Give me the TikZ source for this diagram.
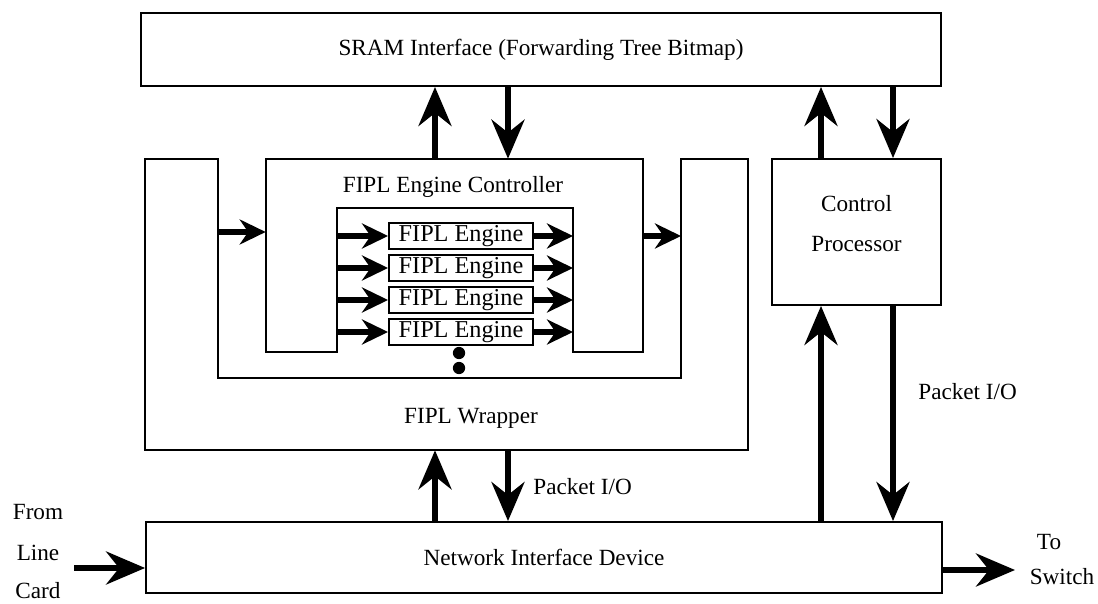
\documentclass[tikz,border=0pt]{standalone}
\usepackage{fontspec}
\setmainfont{Liberation Serif}
\usetikzlibrary{positioning}
\usetikzlibrary{arrows.meta}

\tikzset{
  box/.style={draw, line width=1.1pt, inner sep=0pt},
  hidden/.style={inner sep=0pt},
  frame/.style={line width=1.1pt, line join=miter},
  bigarrow/.style={line width=3.3pt, -{Stealth[length=0.78cm,width=0.66cm,inset=0.26cm]}},
  smallarrow/.style={line width=3pt, -{Stealth[length=0.52cm,width=0.5cm,inset=0.17cm]}},
  lbl/.style={inner sep=0pt}
}

\begin{document}
\begin{tikzpicture}[x=0.02cm, y=-0.02cm, font=\fontsize{13.2}{16}\selectfont]
  \useasboundingbox (0,0) rectangle (1098,604);

  \node[box, minimum width=16cm, minimum height=1.46cm] (sram) at (541,49.5)
    {SRAM Interface (Forwarding Tree Bitmap)};
  \node[box, minimum width=15.92cm, minimum height=1.42cm] (nid) at (544,557.5)
    {Network Interface Device};
  \node[box, minimum width=3.38cm, minimum height=2.92cm] (cp) at (856.5,232) {};
  \node[lbl, align=center] (cplbl) at (856.5,223.5) {Control\\[7pt]Processor};

  \node[hidden, minimum width=12.06cm, minimum height=5.82cm] (wrap) at (446.5,304.5) {};
  \draw[frame] (145,159) -- (145,450) -- (748,450) -- (748,159) -- (681,159)
    -- (681,378) -- (218,378) -- (218,159) -- cycle;
  \node[lbl] (wraplbl) at (471,418) {FIPL Wrapper};

  \node[hidden, minimum width=7.54cm, minimum height=3.86cm] (ctrl) at (454.5,255.5) {};
  \draw[frame] (266,159) -- (643,159) -- (643,352) -- (573,352) -- (573,208)
    -- (337,208) -- (337,352) -- (266,352) -- cycle;
  \node[lbl] (ctrllbl) at (453,187) {FIPL Engine Controller};

  \coordinate (inL) at (337,0);
  \coordinate (inR) at (573,0);
  \foreach \y [count=\i] in {236,268,300,332} {
    \node[box, minimum width=2.88cm, minimum height=0.52cm,
      font=\fontsize{13.8}{16}\selectfont] (eng\i) at (461,\y) {FIPL Engine};
    \draw[smallarrow] (inL |- eng\i.west) -- (eng\i.west);
    \draw[smallarrow] (eng\i.east) -- (inR |- eng\i.east);
  }
  \node[circle, fill, inner sep=0pt, minimum size=7pt] (dot1) at (459,353) {};
  \node[circle, fill, inner sep=0pt, minimum size=7pt] (dot2) at (459,368) {};

  \coordinate (wrapinL) at (218,232);
  \coordinate (wrapinR) at (681,236);
  \draw[smallarrow] (wrapinL) -- (wrapinL -| ctrl.west);
  \draw[smallarrow] (wrapinR -| ctrl.east) -- (wrapinR);

  \coordinate (upA) at (435,0);
  \coordinate (dnA) at (508,0);
  \coordinate (upB) at (821,0);
  \coordinate (dnB) at (893,0);
  \draw[bigarrow] (upA |- ctrl.north) -- (upA |- sram.south);
  \draw[bigarrow] (dnA |- sram.south) -- (dnA |- ctrl.north);
  \draw[bigarrow] (upB |- cp.north) -- (upB |- sram.south);
  \draw[bigarrow] (dnB |- sram.south) -- (dnB |- cp.north);
  \draw[bigarrow] (upA |- nid.north) -- (upA |- wrap.south);
  \draw[bigarrow] (dnA |- wrap.south) -- (dnA |- nid.north);
  \draw[bigarrow] (upB |- nid.north) -- (upB |- cp.south);
  \draw[bigarrow] (dnB |- cp.south) -- (dnB |- nid.north);

  \node[lbl, anchor=west] (pio1) at (533,487) {Packet I/O};
  \node[lbl, anchor=west] (pio2) at (918,392) {Packet I/O};

  \node[lbl] (from) at (38,512) {From};
  \node[lbl] (line) at (38,553) {Line};
  \node[lbl] (card) at (38,591) {Card};
  \coordinate (srcL) at (74,568);
  \draw[bigarrow] (srcL) -- (srcL -| nid.west);

  \node[lbl] (to) at (1049,542) {To};
  \node[lbl] (switch) at (1062,577) {Switch};
  \coordinate (dstR) at (1015,570);
  \draw[bigarrow] (dstR -| nid.east) -- (dstR);
\end{tikzpicture}
\end{document}
